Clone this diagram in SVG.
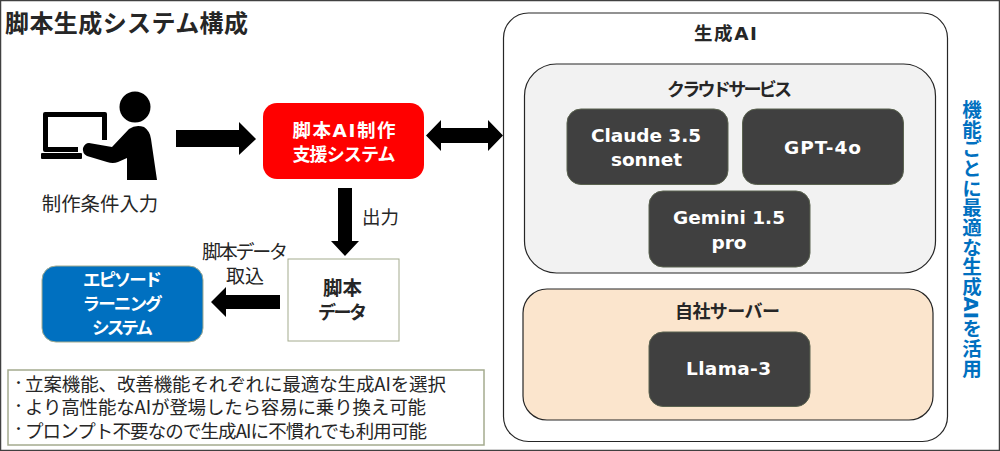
<svg xmlns="http://www.w3.org/2000/svg" width="1000" height="451" viewBox="0 0 1000 451">
<style>
text{font-family:"DejaVu Sans","Noto Sans CJK JP",sans-serif;fill:#262626}
.j{font-family:"Noto Sans CJK JP","Noto Sans",sans-serif}
.b{font-weight:700}
.c{text-anchor:middle}
.w{fill:#fff}
.lat{font-weight:700;fill:#fff;text-anchor:middle;font-size:18.500px}
.k{fill:#404040;stroke:#5b6350;stroke-width:1}
.a{fill:#000}
</style>
<rect x="0.500" y="0.500" width="999" height="450" fill="#fff" stroke="#404040" stroke-width="1.500"/>
<text id="title" class="b j" x="5" y="32" font-size="24" textLength="243">脚本生成システム構成</text>
<g id="user">
<circle cx="135" cy="107" r="15.500" fill="#000"/>
<path d="M43 114q0-2 2-2h60q2 0 2 2v26h-5V117H48v30h30v5H45q-2 0-2-2z" fill="#000"/>
<rect x="41" y="153" width="41" height="6" rx="1" fill="#000"/>
<path d="M89 143L112 147L129 129Q136 124 144 127Q150 131 151 139L157 180H127V158L118 162Q113 164 107 162L87 156Q82 153 83 148Q85 143 89 143Z" fill="#000"/>
<text class="c j" x="100" y="211" font-size="19.400">制作条件入力</text>
</g>
<g id="connectors">
<path class="a" d="M176 130H239V122L256 139L239 155V147H176Z"/>
<path class="a" d="M426 135.500L441 120V128H488V120L503 135.500L488 151V143H441V151Z"/>
<path class="a" d="M338 188H352V241H359L345 256L331 241H338Z"/>
<path class="a" d="M280 295V309H226V317L211 302L226 287V295Z"/>
</g>
<g id="ai-system">
<rect x="263" y="103" width="161" height="76" rx="14" fill="#f00"/>
<text class="b c w" x="344" y="137" font-size="18.500" textLength="103">脚本AI制作</text>
<text class="b c w j" x="344" y="161" font-size="18" textLength="103">支援システム</text>
</g>
<text id="output" class="j" x="362" y="224" font-size="18.500">出力</text>
<g id="script-data">
<rect x="288" y="259" width="111" height="82" fill="#fff" stroke="#a4ab8e" stroke-width="1"/>
<text class="b c j" x="342.500" y="295" font-size="19.500">脚本</text>
<text class="b c j" x="342.500" y="319" font-size="18" textLength="49">データ</text>
</g>
<g id="import-label">
<text class="c j" x="245" y="259" font-size="19" textLength="86">脚本データ</text>
<text class="c j" x="245" y="283" font-size="19">取込</text>
</g>
<g id="episode">
<rect x="42" y="266" width="161" height="76" rx="14" fill="#0070c0" stroke="#a4ab8e" stroke-width="1"/>
<text class="b c w j" x="122.500" y="286" font-size="17.500" textLength="79">エピソード</text>
<text class="b c w j" x="122.500" y="310" font-size="17.500" textLength="80">ラーニング</text>
<text class="b c w j" x="122.500" y="334" font-size="17.500" textLength="61">システム</text>
</g>
<g id="notes">
<rect x="8" y="370" width="476" height="75" fill="#fff" stroke="#a4ab8e" stroke-width="1.500"/>
<text class="j b" x="13" y="387" font-size="11">・</text>
<text class="j" x="25" y="391" font-size="18.500" textLength="421">立案機能、改善機能それぞれに最適な生成AIを選択</text>
<text class="j b" x="13" y="410" font-size="11">・</text>
<text class="j" x="25" y="414" font-size="18.500" textLength="401">より高性能なAIが登場したら容易に乗り換え可能</text>
<text class="j b" x="13" y="433" font-size="11">・</text>
<text class="j" x="25" y="438" font-size="18.500" textLength="402">プロンプト不要なので生成AIに不慣れでも利用可能</text>
</g>
<g id="genai">
<rect x="503.500" y="13" width="444" height="428.500" rx="25" fill="#fff" stroke="#262626" stroke-width="1.200"/>
<text class="b c" x="725.500" y="40" font-size="18.500" textLength="63">生成AI</text>
</g>
<g id="cloud">
<rect x="524.500" y="64" width="411" height="209" rx="32" fill="#f2f2f2" stroke="#262626" stroke-width="1.200"/>
<text class="b c j" x="729.500" y="96" font-size="18" textLength="125">クラウドサービス</text>
</g>
<g id="claude"><rect class="k" x="567" y="109" width="161" height="75.500" rx="14"/>
<text class="lat" x="646" y="142" textLength="110">Claude 3.5</text><text class="lat" x="646.500" y="166" textLength="71">sonnet</text></g>
<g id="gpt"><rect class="k" x="742.500" y="109" width="161" height="75.500" rx="14"/>
<text class="lat" x="822.500" y="154" textLength="77">GPT-4o</text></g>
<g id="gemini"><rect class="k" x="649" y="191" width="161" height="76" rx="14"/>
<text class="lat" x="729" y="224" textLength="112">Gemini 1.5</text><text class="lat" x="729" y="249" textLength="35">pro</text></g>
<g id="server">
<rect x="523" y="289" width="410" height="131" rx="24" fill="#fbe5cd" stroke="#262626" stroke-width="1.200"/>
<text class="b c j" x="727.500" y="318" font-size="18" textLength="105">自社サーバー</text>
</g>
<g id="llama"><rect class="k" x="649" y="332" width="161" height="74.500" rx="14"/>
<text class="lat" x="728.500" y="375" textLength="85">Llama-3</text></g>
<text id="side-note" class="b" x="970" y="100" font-size="19.500" style="writing-mode:vertical-rl;fill:#0070c0" textLength="278">機能ごとに最適な生成AIを活用</text>
</svg>
